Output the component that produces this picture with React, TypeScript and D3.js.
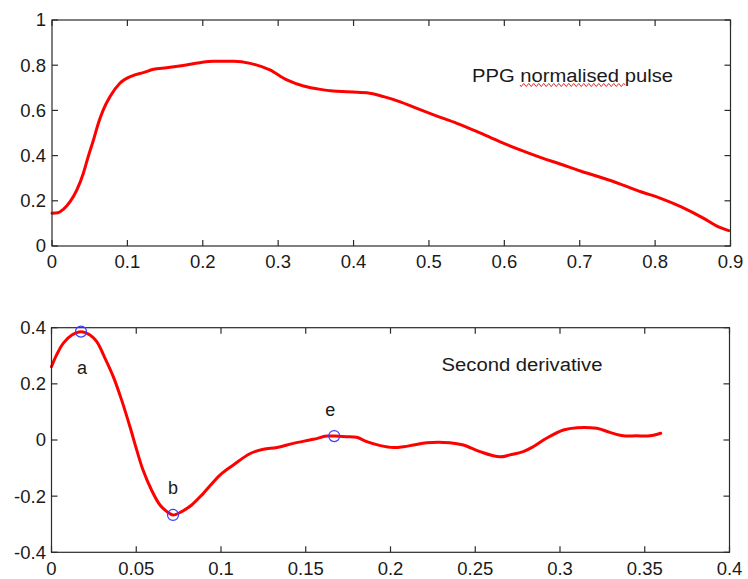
import React from "react";
import * as d3 from "d3";

// ---- data ----
const ppgX = [0, 0.008, 0.015, 0.024, 0.033, 0.0416, 0.048, 0.055, 0.0615, 0.068, 0.077, 0.09, 0.1058, 0.121, 0.1345, 0.152, 0.174, 0.196, 0.214, 0.241, 0.263, 0.289, 0.3115, 0.3336, 0.356, 0.373, 0.391, 0.4177, 0.44, 0.462, 0.484, 0.5106, 0.537, 0.564, 0.5946, 0.621, 0.6477, 0.674, 0.701, 0.7274, 0.754, 0.781, 0.8074, 0.834, 0.8645, 0.882, 0.8977];
const ppgY = [0.145, 0.147, 0.162, 0.196, 0.248, 0.322, 0.395, 0.469, 0.543, 0.602, 0.661, 0.72, 0.752, 0.767, 0.782, 0.789, 0.799, 0.811, 0.817, 0.817, 0.808, 0.779, 0.735, 0.708, 0.693, 0.686, 0.683, 0.678, 0.661, 0.638, 0.609, 0.575, 0.543, 0.506, 0.461, 0.425, 0.392, 0.363, 0.332, 0.304, 0.274, 0.24, 0.211, 0.174, 0.122, 0.088, 0.068];

const sdX = [0, 0.003, 0.007, 0.012, 0.0174, 0.0227, 0.0267, 0.0316, 0.0365, 0.0414, 0.0463, 0.0503, 0.054, 0.059, 0.064, 0.069, 0.0717, 0.0768, 0.0827, 0.0896, 0.0994, 0.1073, 0.117, 0.125, 0.133, 0.1427, 0.1545, 0.1624, 0.1668, 0.174, 0.18, 0.186, 0.194, 0.2017, 0.2076, 0.2135, 0.2214, 0.235, 0.243, 0.2528, 0.2646, 0.2705, 0.2783, 0.2842, 0.292, 0.302, 0.31, 0.3217, 0.3295, 0.3373, 0.345, 0.353, 0.3594];
const sdY = [0.261, 0.303, 0.345, 0.374, 0.386, 0.374, 0.35, 0.291, 0.225, 0.142, 0.047, -0.036, -0.107, -0.178, -0.2315, -0.259, -0.267, -0.255, -0.2315, -0.19, -0.125, -0.089, -0.049, -0.033, -0.027, -0.012, 0.0025, 0.014, 0.014, 0.012, 0.0095, -0.006, -0.02, -0.027, -0.024, -0.018, -0.0096, -0.0096, -0.018, -0.0415, -0.06, -0.053, -0.0415, -0.024, 0.006, 0.0356, 0.044, 0.0416, 0.027, 0.015, 0.015, 0.015, 0.024];

const markerLabels = ["a", "b", "e"];
const markerX = [0.0174, 0.0717, 0.1668];
const markerY = [0.386, -0.267, 0.014];

const topXTicks = [0, 0.1, 0.2, 0.3, 0.4, 0.5, 0.6, 0.7, 0.8, 0.9];
const topYTicks = [0, 0.2, 0.4, 0.6, 0.8, 1];
const botXTicks = [0, 0.05, 0.1, 0.15, 0.2, 0.25, 0.3, 0.35, 0.4];
const botYTicks = [-0.4, -0.2, 0, 0.2, 0.4];

const FONT = "'Liberation Sans', Arial, sans-serif";
const AXIS = "#2b2b2b";
const TXT = "#1a1a1a";

function fmt(v: number) {
  const r = Math.round(v * 1000) / 1000;
  return r < 0 ? "-" + String(-r) : String(r);
}

type PanelProps = {
  x0: number; x1: number; y0: number; y1: number;
  xDomain: [number, number]; yDomain: [number, number];
  xTicks: number[]; yTicks: number[];
  xs: number[]; ys: number[];
  curve: any;
  labelBaseline: number;
  children?: (x: d3.ScaleLinear<number, number>, y: d3.ScaleLinear<number, number>) => React.ReactNode;
};

function Panel(p: PanelProps) {
  const x = d3.scaleLinear().domain(p.xDomain).range([p.x0, p.x1]);
  const y = d3.scaleLinear().domain(p.yDomain).range([p.y1, p.y0]);
  const pts = p.xs.map((v, i) => [v, p.ys[i]] as [number, number]);
  const line = d3.line<[number, number]>().x(d => x(d[0])).y(d => y(d[1])).curve(p.curve);
  const tl = 6;
  return (
    <g>
      <path d={line(pts) || ""} fill="none" stroke="#ff0000" strokeWidth={3} strokeLinejoin="round" strokeLinecap="round" />
      <rect x={p.x0} y={p.y0} width={p.x1 - p.x0} height={p.y1 - p.y0} fill="none" stroke={AXIS} strokeWidth={1.2} />
      {p.xTicks.map((t, i) => (
        <g key={"x" + i}>
          <line x1={x(t)} x2={x(t)} y1={p.y1} y2={p.y1 - tl} stroke={AXIS} strokeWidth={1.2} />
          <line x1={x(t)} x2={x(t)} y1={p.y0} y2={p.y0 + tl} stroke={AXIS} strokeWidth={1.2} />
          <text x={x(t)} y={p.labelBaseline} textAnchor="middle" fontSize={18.5} fontFamily={FONT} fill={TXT}>{fmt(t)}</text>
        </g>
      ))}
      {p.yTicks.map((t, i) => (
        <g key={"y" + i}>
          <line x1={p.x0} x2={p.x0 + tl} y1={y(t)} y2={y(t)} stroke={AXIS} strokeWidth={1.2} />
          <line x1={p.x1} x2={p.x1 - tl} y1={y(t)} y2={y(t)} stroke={AXIS} strokeWidth={1.2} />
          <text x={46} y={y(t)} dy="0.35em" textAnchor="end" fontSize={18.5} fontFamily={FONT} fill={TXT}>{fmt(t)}</text>
        </g>
      ))}
      {p.children && p.children(x, y)}
    </g>
  );
}

function squiggle(xa: number, xb: number, yc: number, amp: number, period: number) {
  let d = `M${xa},${yc}`;
  let s = 1;
  for (let xx = xa; xx < xb; xx += period / 2) {
    d += ` L${xx + period / 4},${yc + s * amp} L${xx + period / 2},${yc}`;
    s = -s;
  }
  return d;
}

export default function App() {
  const labelOffsets = [
    { dx: 1, dy: 42 },
    { dx: 0, dy: -21 },
    { dx: -4, dy: -20 },
  ];
  return (
    <svg width={748} height={579} style={{ position: "absolute", left: 0, top: 0, background: "#fff" }}>
      <rect x={0} y={0} width={748} height={579} fill="#fff" />
      <Panel x0={52} x1={730.5} y0={20} y1={246} xDomain={[0, 0.9]} yDomain={[0, 1]}
        xTicks={topXTicks} yTicks={topYTicks} xs={ppgX} ys={ppgY} curve={d3.curveMonotoneX} labelBaseline={268} />
      <text x={472} y={81.5} fontSize={18} fontFamily={FONT} fill={TXT} textLength={201} lengthAdjust="spacingAndGlyphs">PPG normalised pulse</text>
      <path d={squiggle(520, 624, 85, 1.6, 5)} fill="none" stroke="#e03030" strokeWidth={1} />
      <Panel x0={51.5} x1={729.5} y0={327.7} y1={552.3} xDomain={[0, 0.4]} yDomain={[-0.4, 0.4]}
        xTicks={botXTicks} yTicks={botYTicks} xs={sdX} ys={sdY} curve={d3.curveCatmullRom} labelBaseline={574.5}>
        {(x, y) => (
          <g>
            {markerX.map((mx, i) => (
              <g key={i}>
                <circle cx={x(mx)} cy={y(markerY[i])} r={5.5} fill="none" stroke="#3b3bff" strokeWidth={1.2} />
                <text x={x(mx) + labelOffsets[i].dx} y={y(markerY[i]) + labelOffsets[i].dy} textAnchor="middle" fontSize={18} fontFamily={FONT} fill={TXT}>{markerLabels[i]}</text>
              </g>
            ))}
          </g>
        )}
      </Panel>
      <text x={441.5} y={370.7} fontSize={18} fontFamily={FONT} fill={TXT} textLength={161} lengthAdjust="spacingAndGlyphs">Second derivative</text>
    </svg>
  );
}
